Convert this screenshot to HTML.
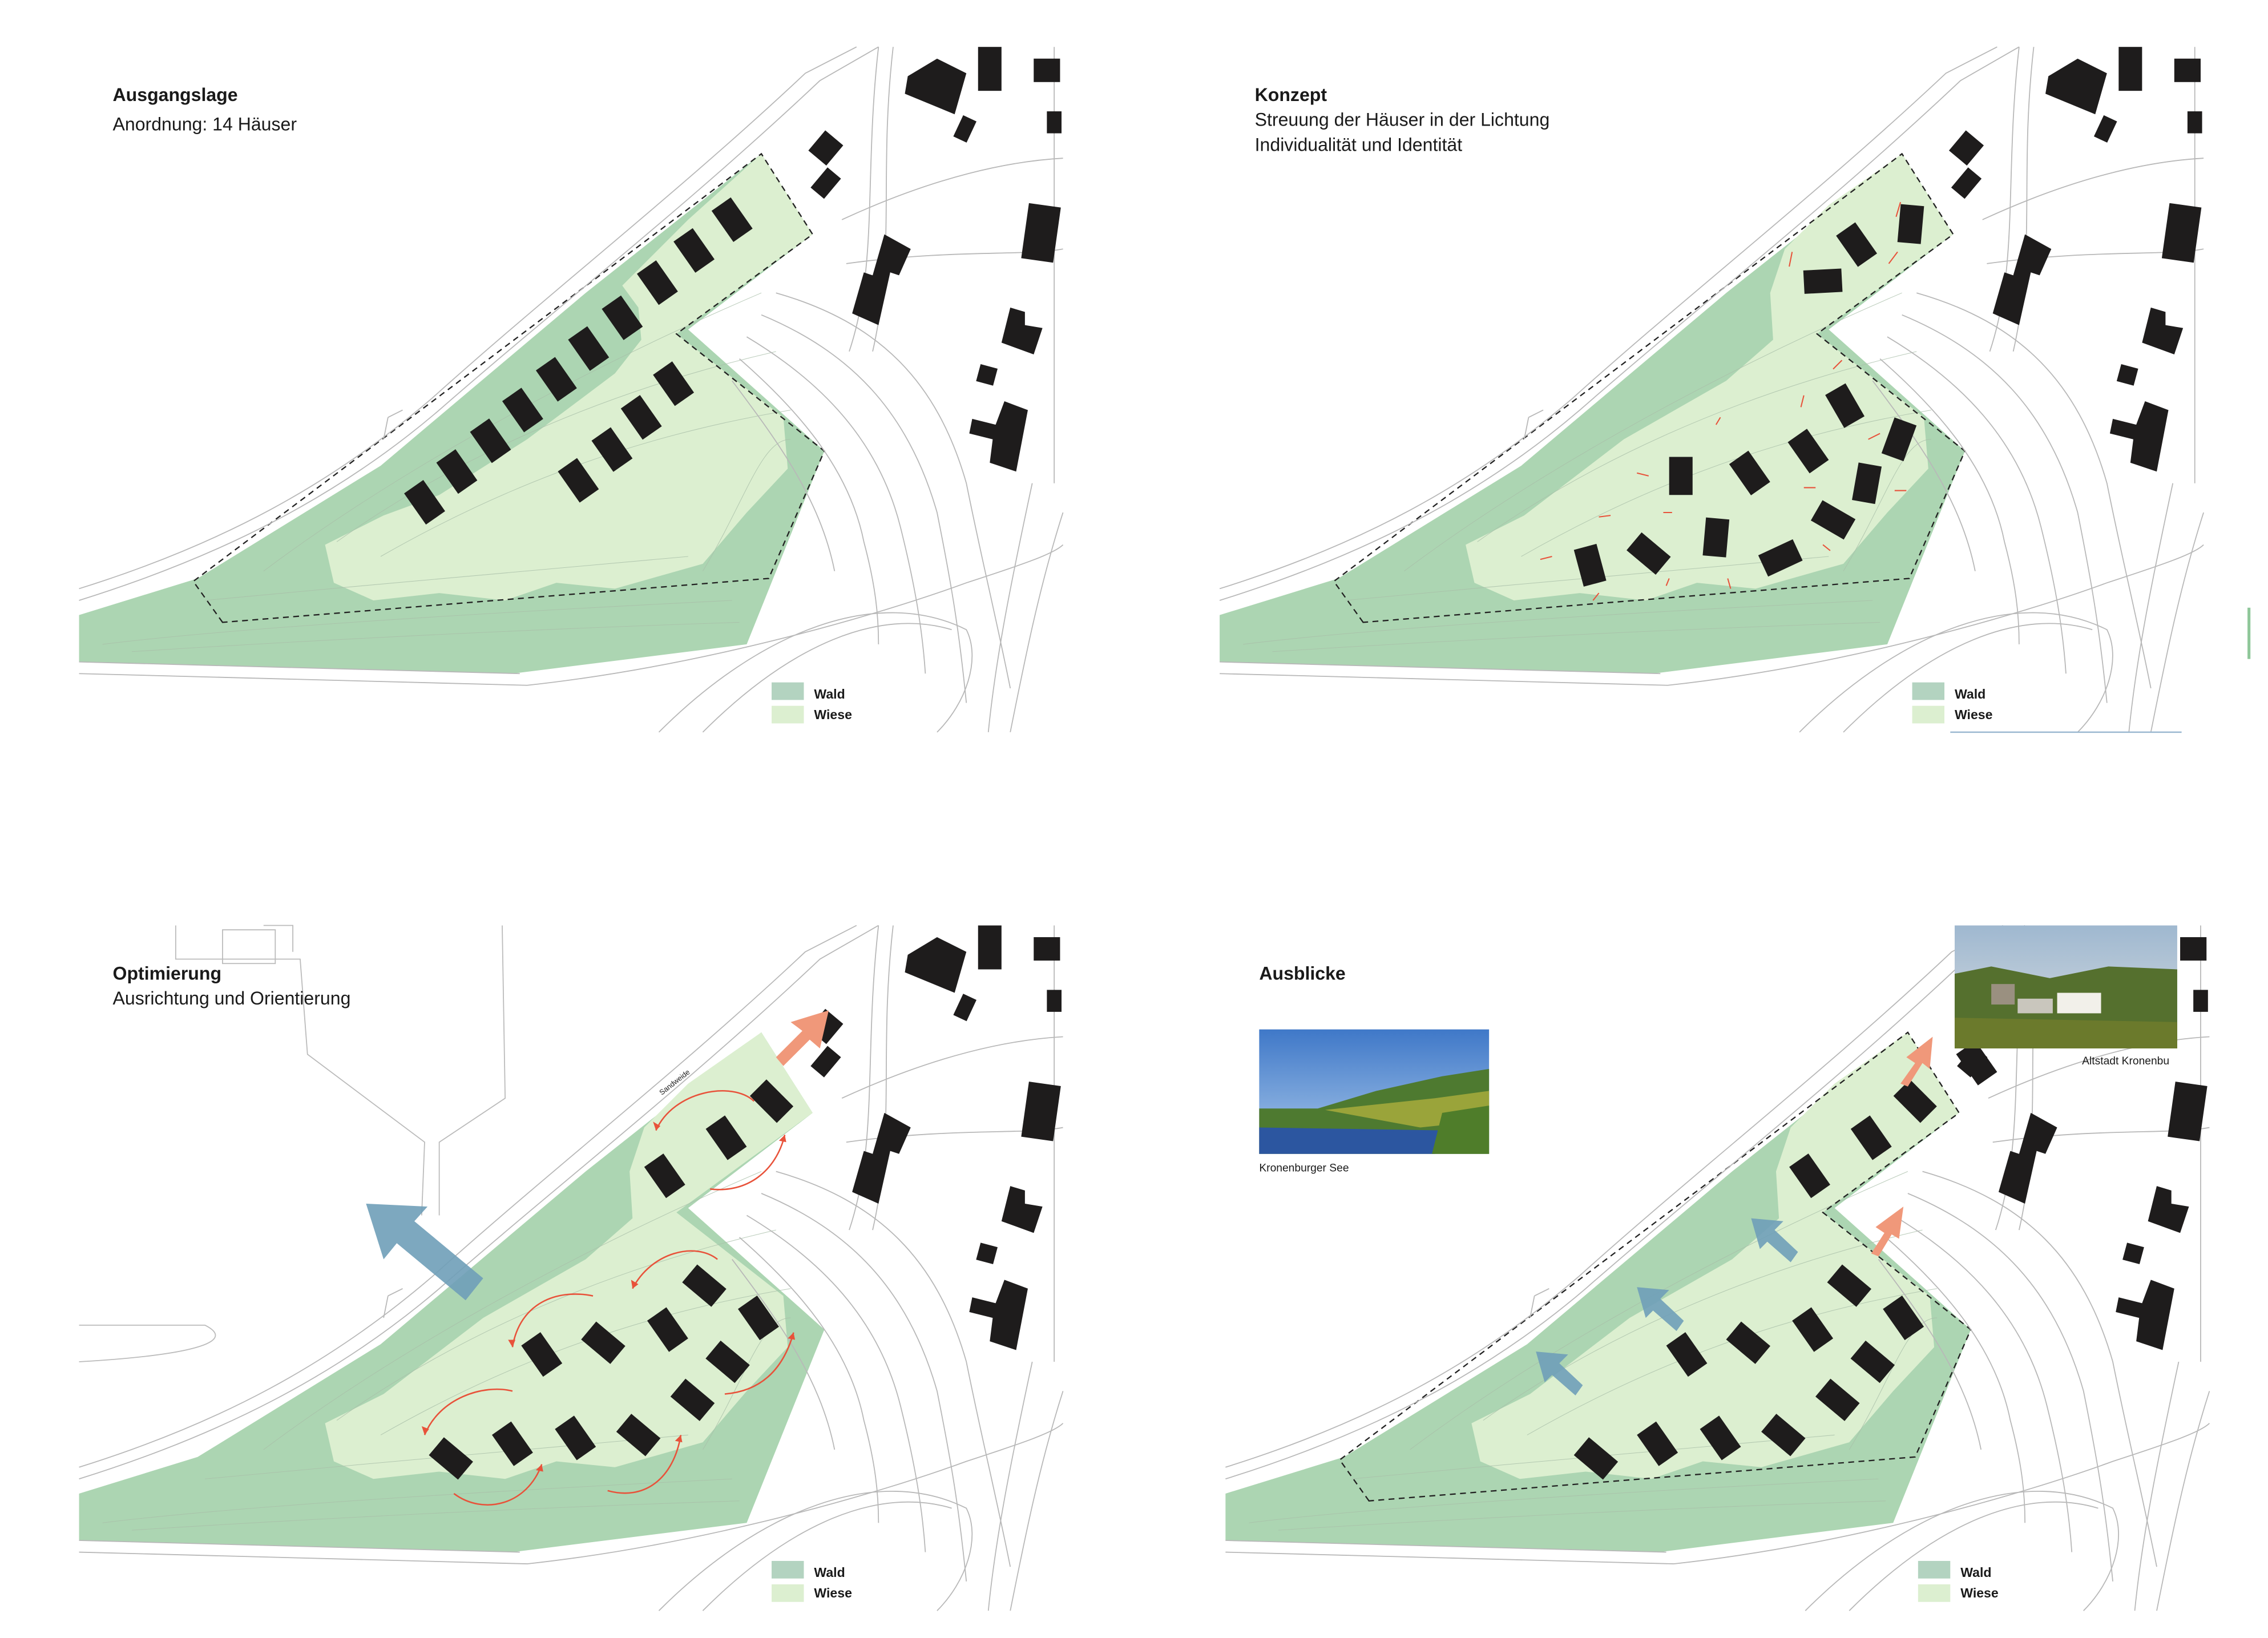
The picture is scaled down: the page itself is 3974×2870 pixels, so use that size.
<!DOCTYPE html>
<html><head><meta charset="utf-8"><style>
html,body{margin:0;padding:0;background:#fff}
svg{display:block}
text{font-family:"Liberation Sans",sans-serif;fill:#1a1a1a}
</style></head><body>
<svg width="3974" height="2870" viewBox="0 0 1549 1118.6" xmlns="http://www.w3.org/2000/svg">
<defs>
<g id="roads" fill="none" stroke="#b8b8b8" stroke-width="0.7">
<path d="M54,410 C150,380 230,340 300,280 C380,210 470,140 560,55 L600,32"/>
<path d="M54,402 C150,372 225,332 295,272 C375,200 465,130 550,50 L585,32"/>
<path d="M54,460 L360,468 C480,455 600,420 660,398 C700,385 720,378 726,372"/>
<path d="M54,452 L355,460"/>
<path d="M450,500 C520,430 600,400 660,430 C670,450 660,480 640,500"/>
<path d="M480,500 C540,440 600,415 650,430"/>
<path d="M600,32 C590,120 600,180 580,240 M610,32 C600,120 612,170 596,240"/>
<path d="M575,150 C640,120 690,110 726,108 M578,180 C650,170 700,175 726,170"/>
<path d="M720,32 L720,330 M705,330 C690,400 680,450 675,500 M726,350 C710,400 700,450 690,500"/>
<path d="M530,200 C600,220 640,260 660,330 C670,380 680,420 690,470"/>
<path d="M520,215 C580,240 620,280 640,350 C650,400 655,430 660,480"/>
<path d="M510,230 C560,260 600,300 615,360 C625,400 630,430 632,460"/>
<path d="M505,245 C545,280 580,320 590,370 C598,400 600,420 600,440"/>
<path d="M500,260 C530,300 560,340 570,390"/>
<path d="M265,285 L275,280 M265,285 L262,300"/>
</g>
<g id="contours" fill="none" stroke="#a9bfa9" stroke-width="0.4" opacity="0.8">
<path d="M70,440 C150,430 300,420 500,410"/>
<path d="M90,445 C200,438 350,430 505,425"/>
<path d="M140,410 C250,400 350,390 470,380"/>
<path d="M180,390 C260,330 380,260 520,200"/>
<path d="M230,370 C300,320 400,270 530,240"/>
<path d="M260,380 C330,340 420,300 540,280"/>
<path d="M480,390 C510,340 520,300 540,300"/>
</g>
<g id="blds" fill="#1e1c1c">
<path d="M620,52 L640,40 L660,50 L652,78 L618,64Z"/>
<rect x="668" y="32" width="16" height="30"/>
<rect x="706" y="40" width="18" height="16"/>
<rect x="654" y="80" width="10" height="16" transform="rotate(25 659 88)"/>
<rect x="715" y="76" width="10" height="15"/>
<rect x="556" y="92" width="16" height="18" transform="rotate(40 564 101)"/>
<rect x="558" y="116" width="12" height="18" transform="rotate(40 564 125)"/>
<path d="M604,160 L622,170 L614,188 L608,186 L600,222 L582,214 L590,186 L596,188Z"/>
<rect x="700" y="140" width="22" height="38" transform="rotate(8 711 159)"/>
<path d="M690,210 L700,213 L700,222 L712,224 L706,242 L684,234Z"/>
<rect x="668" y="250" width="12" height="12" transform="rotate(15 674 256)"/>
<path d="M686,274 L702,280 L694,322 L676,316 L678,300 L662,296 L664,286 L680,290Z"/>
</g>
</defs>

<!-- ===== Q1 ===== -->
<g>
<path d="M54,420 L135,395 L260,318 L400,200 L520,105 L555,160 L470,225 L563,308 L510,440 L350,460 L54,452Z" fill="#acd5b2"/>
<path d="M520,105 L555,160 L462,228 L535,285 L538,320 L510,350 L480,385 L420,402 L380,398 L345,410 L300,405 L255,410 L228,398 L222,372 L262,352 L300,338 L360,300 L420,255 L438,232 L436,210 L425,195 L470,150Z" fill="#dcefd0"/>
<use href="#contours"/>
<path d="M152,425 L132,397 L520,105 L555,160 L462,228 L563,308 L525,395 Z" fill="none" stroke="#222" stroke-width="0.9" stroke-dasharray="4,3"/>
<use href="#roads"/><use href="#blds"/>
<g fill="#1e1c1c">
<rect x="-8" y="-13" width="16" height="26" transform="translate(290,343) rotate(-35)"/>
<rect x="-8" y="-13" width="16" height="26" transform="translate(312,322) rotate(-35)"/>
<rect x="-8" y="-13" width="16" height="26" transform="translate(335,301) rotate(-35)"/>
<rect x="-8" y="-13" width="16" height="26" transform="translate(357,280) rotate(-35)"/>
<rect x="-8" y="-13" width="16" height="26" transform="translate(380,259) rotate(-35)"/>
<rect x="-8" y="-13" width="16" height="26" transform="translate(402,238) rotate(-35)"/>
<rect x="-8" y="-13" width="16" height="26" transform="translate(425,217) rotate(-35)"/>
<rect x="-8" y="-13" width="16" height="26" transform="translate(449,193) rotate(-35)"/>
<rect x="-8" y="-13" width="16" height="26" transform="translate(474,171) rotate(-35)"/>
<rect x="-8" y="-13" width="16" height="26" transform="translate(500,150) rotate(-35)"/>
<rect x="-8" y="-13" width="16" height="26" transform="translate(395,328) rotate(-35)"/>
<rect x="-8" y="-13" width="16" height="26" transform="translate(418,307) rotate(-35)"/>
<rect x="-8" y="-13" width="16" height="26" transform="translate(438,285) rotate(-35)"/>
<rect x="-8" y="-13" width="16" height="26" transform="translate(460,262) rotate(-35)"/>
</g>
<text x="77" y="69" font-size="12.5" font-weight="bold">Ausgangslage</text>
<text x="77" y="89" font-size="12.5">Anordnung: 14 Häuser</text>
<rect x="527" y="466" width="22" height="12" fill="#b3d3c0"/><rect x="527" y="482" width="22" height="12" fill="#dcefd0"/>
<text x="556" y="477" font-size="9" font-weight="bold">Wald</text><text x="556" y="491" font-size="9" font-weight="bold">Wiese</text>
</g>

<!-- ===== Q2 ===== -->
<g transform="translate(779,0)">
<path d="M54,420 L135,395 L260,318 L400,200 L520,105 L555,160 L470,225 L563,308 L510,440 L350,460 L54,452Z" fill="#acd5b2"/>
<path d="M520,105 L555,160 L462,228 L535,285 L538,320 L510,350 L480,385 L420,402 L380,398 L345,410 L300,405 L255,410 L228,398 L222,372 L262,352 L330,300 L400,260 L432,232 L430,200 L440,170 L470,140Z" fill="#dcefd0"/>
<use href="#contours"/>
<path d="M152,425 L132,397 L520,105 L555,160 L462,228 L563,308 L525,395 Z" fill="none" stroke="#222" stroke-width="0.9" stroke-dasharray="4,3"/>
<use href="#roads"/><use href="#blds"/>
</g>
<g fill="#1e1c1c">
<rect x="-8" y="-13" width="16" height="26" transform="translate(1305,153) rotate(5)"/>
<rect x="-8" y="-13" width="16" height="26" transform="translate(1268,167) rotate(-35)"/>
<rect x="-13" y="-8" width="26" height="16" transform="translate(1245,192) rotate(-3)"/>
<rect x="-8" y="-13" width="16" height="26" transform="translate(1260,277) rotate(-30)"/>
<rect x="-8" y="-13" width="16" height="26" transform="translate(1297,300) rotate(20)"/>
<rect x="-8" y="-13" width="16" height="26" transform="translate(1235,308) rotate(-35)"/>
<rect x="-8" y="-13" width="16" height="26" transform="translate(1195,323) rotate(-35)"/>
<rect x="-8" y="-13" width="16" height="26" transform="translate(1148,325) rotate(0)"/>
<rect x="-8" y="-13" width="16" height="26" transform="translate(1275,330) rotate(10)"/>
<rect x="-13" y="-8" width="26" height="16" transform="translate(1252,355) rotate(30)"/>
<rect x="-8" y="-13" width="16" height="26" transform="translate(1172,367) rotate(5)"/>
<rect x="-13" y="-8" width="26" height="16" transform="translate(1126,378) rotate(40)"/>
<rect x="-8" y="-13" width="16" height="26" transform="translate(1086,386) rotate(-15)"/>
<rect x="-13" y="-8" width="26" height="16" transform="translate(1216,381) rotate(-25)"/>
</g>
<g stroke="#e8523a" stroke-width="0.8" fill="none">
<path d="M1295,148 L1298,138 M1290,180 L1296,172 M1222,182 L1224,172 M1252,252 L1258,246 M1230,278 L1232,270 M1276,300 L1284,296 M1294,335 L1302,335 M1240,333 L1232,333 M1245,372 L1250,376 M1172,290 L1175,285 M1126,325 L1118,323 M1100,352 L1092,353 M1142,350 L1136,350 M1060,380 L1052,382 M1092,405 L1088,410 M1140,395 L1138,400 M1180,395 L1182,402"/>
</g>
<text x="857" y="69" font-size="12.5" font-weight="bold">Konzept</text>
<text x="857" y="86" font-size="12.5">Streuung der Häuser in der Lichtung</text>
<text x="857" y="103" font-size="12.5">Individualität und Identität</text>
<rect x="1306" y="466" width="22" height="12" fill="#b3d3c0"/><rect x="1306" y="482" width="22" height="12" fill="#dcefd0"/>
<text x="1335" y="477" font-size="9" font-weight="bold">Wald</text><text x="1335" y="491" font-size="9" font-weight="bold">Wiese</text>
<line x1="1332" y1="500" x2="1490" y2="500" stroke="#9bb8d0" stroke-width="1"/>

<!-- ===== Q3 ===== -->
<g transform="translate(0,600)">
<path d="M54,420 L135,395 L260,318 L400,200 L520,105 L555,160 L470,225 L563,308 L510,440 L350,460 L54,452Z" fill="#acd5b2"/>
<path d="M520,105 L555,160 L462,228 L535,285 L538,320 L510,350 L480,385 L420,402 L380,398 L345,410 L300,405 L255,410 L228,398 L222,372 L262,352 L330,300 L400,260 L432,232 L430,200 L440,170 L470,140Z" fill="#dcefd0"/>
<use href="#contours"/>
<use href="#roads"/><use href="#blds"/>
<g fill="none" stroke="#bbb" stroke-width="0.7"><path d="M120,32 L120,55 L205,55 L210,120 L290,180 L288,230 M180,32 L200,32 L200,50 M152,35 L188,35 L188,58 L152,58 Z M343,32 L345,150 L300,180 L300,230 M54,305 L140,305 C160,315 140,325 54,330"/></g>
</g>
<g fill="#1e1c1c">
<rect x="-8" y="-13" width="16" height="26" transform="translate(527,752) rotate(-45)"/>
<rect x="-8" y="-13" width="16" height="26" transform="translate(496,777) rotate(-35)"/>
<rect x="-8" y="-13" width="16" height="26" transform="translate(454,803) rotate(-35)"/>
<rect x="-8" y="-13" width="16" height="26" transform="translate(481,878) rotate(-50)"/>
<rect x="-8" y="-13" width="16" height="26" transform="translate(518,900) rotate(-35)"/>
<rect x="-8" y="-13" width="16" height="26" transform="translate(456,908) rotate(-35)"/>
<rect x="-8" y="-13" width="16" height="26" transform="translate(412,917) rotate(-50)"/>
<rect x="-8" y="-13" width="16" height="26" transform="translate(370,925) rotate(-35)"/>
<rect x="-8" y="-13" width="16" height="26" transform="translate(497,930) rotate(-50)"/>
<rect x="-8" y="-13" width="16" height="26" transform="translate(473,956) rotate(-50)"/>
<rect x="-8" y="-13" width="16" height="26" transform="translate(308,996) rotate(-50)"/>
<rect x="-8" y="-13" width="16" height="26" transform="translate(350,986) rotate(-35)"/>
<rect x="-8" y="-13" width="16" height="26" transform="translate(393,982) rotate(-35)"/>
<rect x="-8" y="-13" width="16" height="26" transform="translate(436,980) rotate(-50)"/>
</g>
<g stroke="#e8523a" stroke-width="1" fill="none">
<path d="M448,772 C460,745 500,738 515,752"/><path d="M485,812 C510,815 530,800 536,775"/>
<path d="M432,880 C445,855 475,848 490,860"/><path d="M350,920 C355,890 380,880 405,885"/>
<path d="M495,952 C520,950 535,935 542,910"/><path d="M290,980 C300,955 330,945 350,950"/>
<path d="M310,1020 C330,1035 360,1028 370,1000"/><path d="M415,1018 C440,1025 460,1010 465,980"/>
</g>
<g fill="#e8523a"><path d="M448,772 l-2,-6 l5,3z"/><path d="M536,775 l-4,4 l5,1z"/><path d="M432,880 l-1,-6 l5,3z"/><path d="M350,920 l-3,-5 l5,0z"/><path d="M542,910 l-4,4 l5,1z"/><path d="M290,980 l-2,-6 l5,2z"/><path d="M370,1000 l-4,4 l5,1z"/><path d="M465,980 l-4,4 l5,1z"/></g>
<path d="M330,873 L283,834 L292,824 L250,822 L262,860 L271,849 L318,888Z" fill="#6f9fb8" fill-opacity="0.9"/>
<path d="M530,722 L548,704 L540,698 L566,690 L560,716 L553,710 L535,728Z" fill="#f0987a"/>
<text x="452" y="748" font-size="5" transform="rotate(-38 452 748)">Sandweide</text>
<text x="77" y="669" font-size="12.5" font-weight="bold">Optimierung</text>
<text x="77" y="686" font-size="12.5">Ausrichtung und Orientierung</text>
<rect x="527" y="1066" width="22" height="12" fill="#b3d3c0"/><rect x="527" y="1082" width="22" height="12" fill="#dcefd0"/>
<text x="556" y="1077" font-size="9" font-weight="bold">Wald</text><text x="556" y="1091" font-size="9" font-weight="bold">Wiese</text>

<!-- ===== Q4 ===== -->
<g transform="translate(783,600)">
<path d="M54,420 L135,395 L260,318 L400,200 L520,105 L555,160 L470,225 L563,308 L510,440 L350,460 L54,452Z" fill="#acd5b2"/>
<path d="M520,105 L555,160 L462,228 L535,285 L538,320 L510,350 L480,385 L420,402 L380,398 L345,410 L300,405 L255,410 L228,398 L222,372 L262,352 L330,300 L400,260 L432,232 L430,200 L440,170 L470,140Z" fill="#dcefd0"/>
<use href="#contours"/>
<path d="M152,425 L132,397 L520,105 L555,160 L462,228 L563,308 L525,395 Z" fill="none" stroke="#222" stroke-width="0.9" stroke-dasharray="4,3"/>
<use href="#roads"/><use href="#blds"/>
</g>
<g fill="#1e1c1c">
<rect x="-8" y="-13" width="16" height="26" transform="translate(1308,752) rotate(-45)"/>
<rect x="-8" y="-13" width="16" height="26" transform="translate(1278,777) rotate(-35)"/>
<rect x="-8" y="-13" width="16" height="26" transform="translate(1236,803) rotate(-35)"/>
<rect x="-8" y="-13" width="16" height="26" transform="translate(1263,878) rotate(-50)"/>
<rect x="-8" y="-13" width="16" height="26" transform="translate(1300,900) rotate(-35)"/>
<rect x="-8" y="-13" width="16" height="26" transform="translate(1238,908) rotate(-35)"/>
<rect x="-8" y="-13" width="16" height="26" transform="translate(1194,917) rotate(-50)"/>
<rect x="-8" y="-13" width="16" height="26" transform="translate(1152,925) rotate(-35)"/>
<rect x="-8" y="-13" width="16" height="26" transform="translate(1279,930) rotate(-50)"/>
<rect x="-8" y="-13" width="16" height="26" transform="translate(1255,956) rotate(-50)"/>
<rect x="-8" y="-13" width="16" height="26" transform="translate(1090,996) rotate(-50)"/>
<rect x="-8" y="-13" width="16" height="26" transform="translate(1132,986) rotate(-35)"/>
<rect x="-8" y="-13" width="16" height="26" transform="translate(1175,982) rotate(-35)"/>
<rect x="-8" y="-13" width="16" height="26" transform="translate(1218,980) rotate(-50)"/>
<rect x="-8" y="-13" width="16" height="26" transform="translate(1350,726) rotate(-35)"/>
</g>
<g fill="#6f9fb8" fill-opacity="0.9">
<path d="M1228,855 L1212,840 L1218,834 L1196,832 L1202,853 L1207,848 L1223,862Z"/>
<path d="M1150,902 L1134,887 L1140,881 L1118,879 L1124,900 L1129,895 L1145,909Z"/>
<path d="M1081,946 L1065,931 L1071,925 L1049,923 L1055,944 L1060,939 L1076,953Z"/>
</g>
<g fill="#f0987a">
<path d="M1298,740 L1308,726 L1302,722 L1320,708 L1318,730 L1313,726 L1303,742Z"/>
<path d="M1278,856 L1287,842 L1281,838 L1300,824 L1297,846 L1292,843 L1283,858Z"/>
</g>
<text x="860" y="669" font-size="12.5" font-weight="bold">Ausblicke</text>
<defs>
<linearGradient id="sky" x1="0" y1="0" x2="0" y2="1"><stop offset="0" stop-color="#3f78c8"/><stop offset="1" stop-color="#a9c8ea"/></linearGradient>
<linearGradient id="sky2" x1="0" y1="0" x2="0" y2="1"><stop offset="0" stop-color="#9fb8d0"/><stop offset="1" stop-color="#d8dde0"/></linearGradient>
</defs>
<rect x="860" y="703" width="157" height="85" fill="url(#sky)"/>
<path d="M860,757 L900,757 L940,745 L985,735 L1017,730 L1017,788 L860,788Z" fill="#4e7a30"/>
<path d="M905,758 L980,750 L1017,745 L1017,765 L970,770Z" fill="#9aa43a"/>
<path d="M860,770 L990,772 L980,788 L860,788Z" fill="#2c56a0"/>
<path d="M985,760 L1017,755 L1017,788 L978,788Z" fill="#4f7d2a"/>
<text x="860" y="800" font-size="7.5">Kronenburger See</text>
<rect x="1335" y="632" width="152" height="84" fill="url(#sky2)"/>
<path d="M1335,665 L1360,660 L1400,668 L1440,660 L1487,662 L1487,716 L1335,716Z" fill="#55702e"/>
<rect x="1405" y="678" width="30" height="14" fill="#f2f0ea"/>
<rect x="1378" y="682" width="24" height="10" fill="#c9c6bd"/>
<rect x="1360" y="672" width="16" height="14" fill="#9a9080"/>
<path d="M1335,695 L1487,698 L1487,716 L1335,716Z" fill="#6b7a2c"/>
<text x="1422" y="727" font-size="7.5">Altstadt Kronenbu</text>
<rect x="1310" y="1066" width="22" height="12" fill="#b3d3c0"/><rect x="1310" y="1082" width="22" height="12" fill="#dcefd0"/>
<text x="1339" y="1077" font-size="9" font-weight="bold">Wald</text><text x="1339" y="1091" font-size="9" font-weight="bold">Wiese</text>
<line x1="1536" y1="415" x2="1536" y2="450" stroke="#8fc79a" stroke-width="2"/>
</svg>
</body></html>
